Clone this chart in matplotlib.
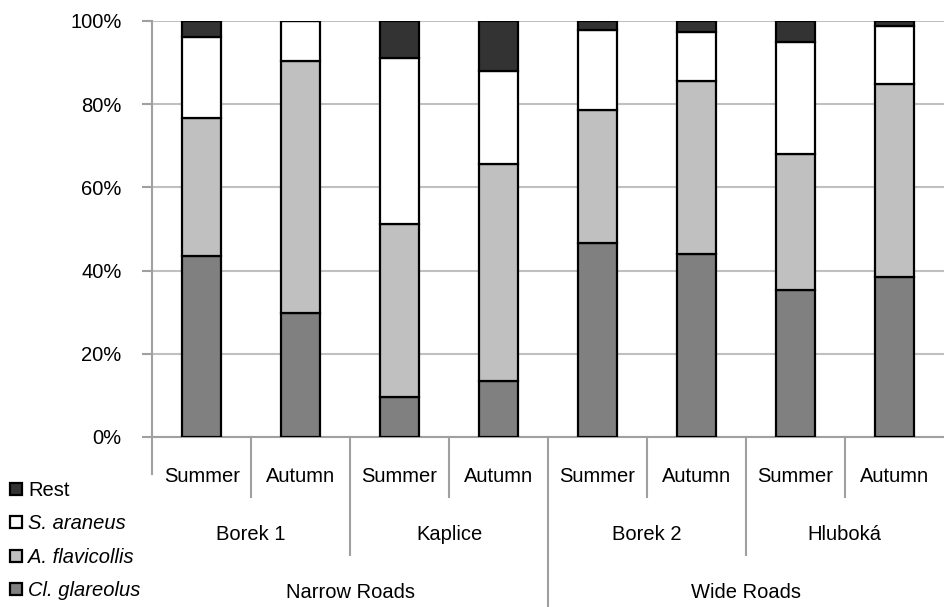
import numpy as np
import matplotlib
matplotlib.use('Agg')
import matplotlib.pyplot as plt
from matplotlib import font_manager
from matplotlib.lines import Line2D

# pick a narrow font if one is there
fam = 'Liberation Sans'
try:
    font_manager.findfont('Liberation Sans Narrow', fallback_to_default=False)
    fam = 'Liberation Sans Narrow'
except Exception:
    pass
plt.rcParams['font.family'] = [fam, 'DejaVu Sans']

seasons = ['Summer', 'Autumn'] * 4
sites = ['Borek 1', 'Kaplice', 'Borek 2', 'Hluboká']
roads = ['Narrow Roads', 'Wide Roads']

species = ['Cl. glareolus', 'A. flavicollis', 'S. araneus', 'Rest']
glareolus = [43.5, 29.7, 9.5, 13.5, 46.6, 44.1, 35.3, 38.5]
flavicollis = [33.3, 60.8, 41.6, 52.1, 32.1, 41.4, 32.7, 46.4]
araneus = [19.4, 9.5, 40.0, 22.5, 19.2, 11.9, 26.9, 13.9]
rest = [3.8, 0.0, 8.9, 11.9, 2.1, 2.6, 5.1, 1.2]
colors = ['#808080', '#c0c0c0', '#ffffff', '#333333']

fs = 16.5 if fam.endswith('Narrow') else 14.5

fig = plt.figure(figsize=(9.44, 6.07), dpi=100)
ax = fig.add_axes([152.3 / 944, 1 - 437 / 607, 791.2 / 944, 416 / 607])

x = np.arange(len(seasons))
bottom = np.zeros(len(seasons))
for vals, c in zip([glareolus, flavicollis, araneus, rest], colors):
    v = np.array(vals)
    ax.bar(x, v, 0.395, bottom=bottom, color=c, edgecolor='black',
           linewidth=1.6, zorder=3)
    bottom += v

ax.set_xlim(-0.5, len(seasons) - 0.5)
ax.set_ylim(0, 100)
ax.set_yticks(range(0, 101, 20))
ax.set_yticklabels([f'{t}%' for t in range(0, 101, 20)], fontsize=fs)
ax.set_xticks([])
ax.grid(axis='y', color='#c0c0c0', linewidth=1.5, zorder=0)
ax.tick_params(axis='y', length=7, width=1.5, color='#a0a0a0', pad=15)
for s in ['top', 'right']:
    ax.spines[s].set_visible(False)
for s in ['left', 'bottom']:
    ax.spines[s].set_color('#a0a0a0')
    ax.spines[s].set_linewidth(1.5)


def fy(py):
    # pixel row -> axes fraction
    return (437 - py) / 416


tr = ax.get_xaxis_transform()
for i, s in enumerate(seasons):
    ax.text(i, fy(477), s, transform=tr, ha='center', va='center', fontsize=fs)
for j, s in enumerate(sites):
    ax.text(2 * j + 0.5, fy(535), s, transform=tr, ha='center', va='center', fontsize=fs)
for j, s in enumerate(roads):
    ax.text(4 * j + 1.5, fy(593), s, transform=tr, ha='center', va='center', fontsize=fs)

# separators under the axis
ends = {0: 474, 1: 497, 2: 555, 3: 497, 4: 607, 5: 497, 6: 555, 7: 497}
for k, py in ends.items():
    ax.add_line(Line2D([k - 0.5, k - 0.5], [0, fy(py)], transform=tr,
                       color='#a0a0a0', linewidth=1.5, clip_on=False))

handles = [Line2D([], [], marker='s', linestyle='none', markersize=9,
                  markerfacecolor=c, markeredgecolor='black', markeredgewidth=1.6)
           for c in colors]
leg = fig.legend(handles[::-1], species[::-1], loc='lower left',
                 bbox_to_anchor=(-0.004, -0.009), frameon=False, fontsize=fs,
                 handlelength=0.8, handletextpad=0.2, labelspacing=0.72,
                 borderaxespad=0.2)
for t in leg.get_texts()[1:]:
    t.set_style('italic')

fig.savefig('out.png', dpi=100)
